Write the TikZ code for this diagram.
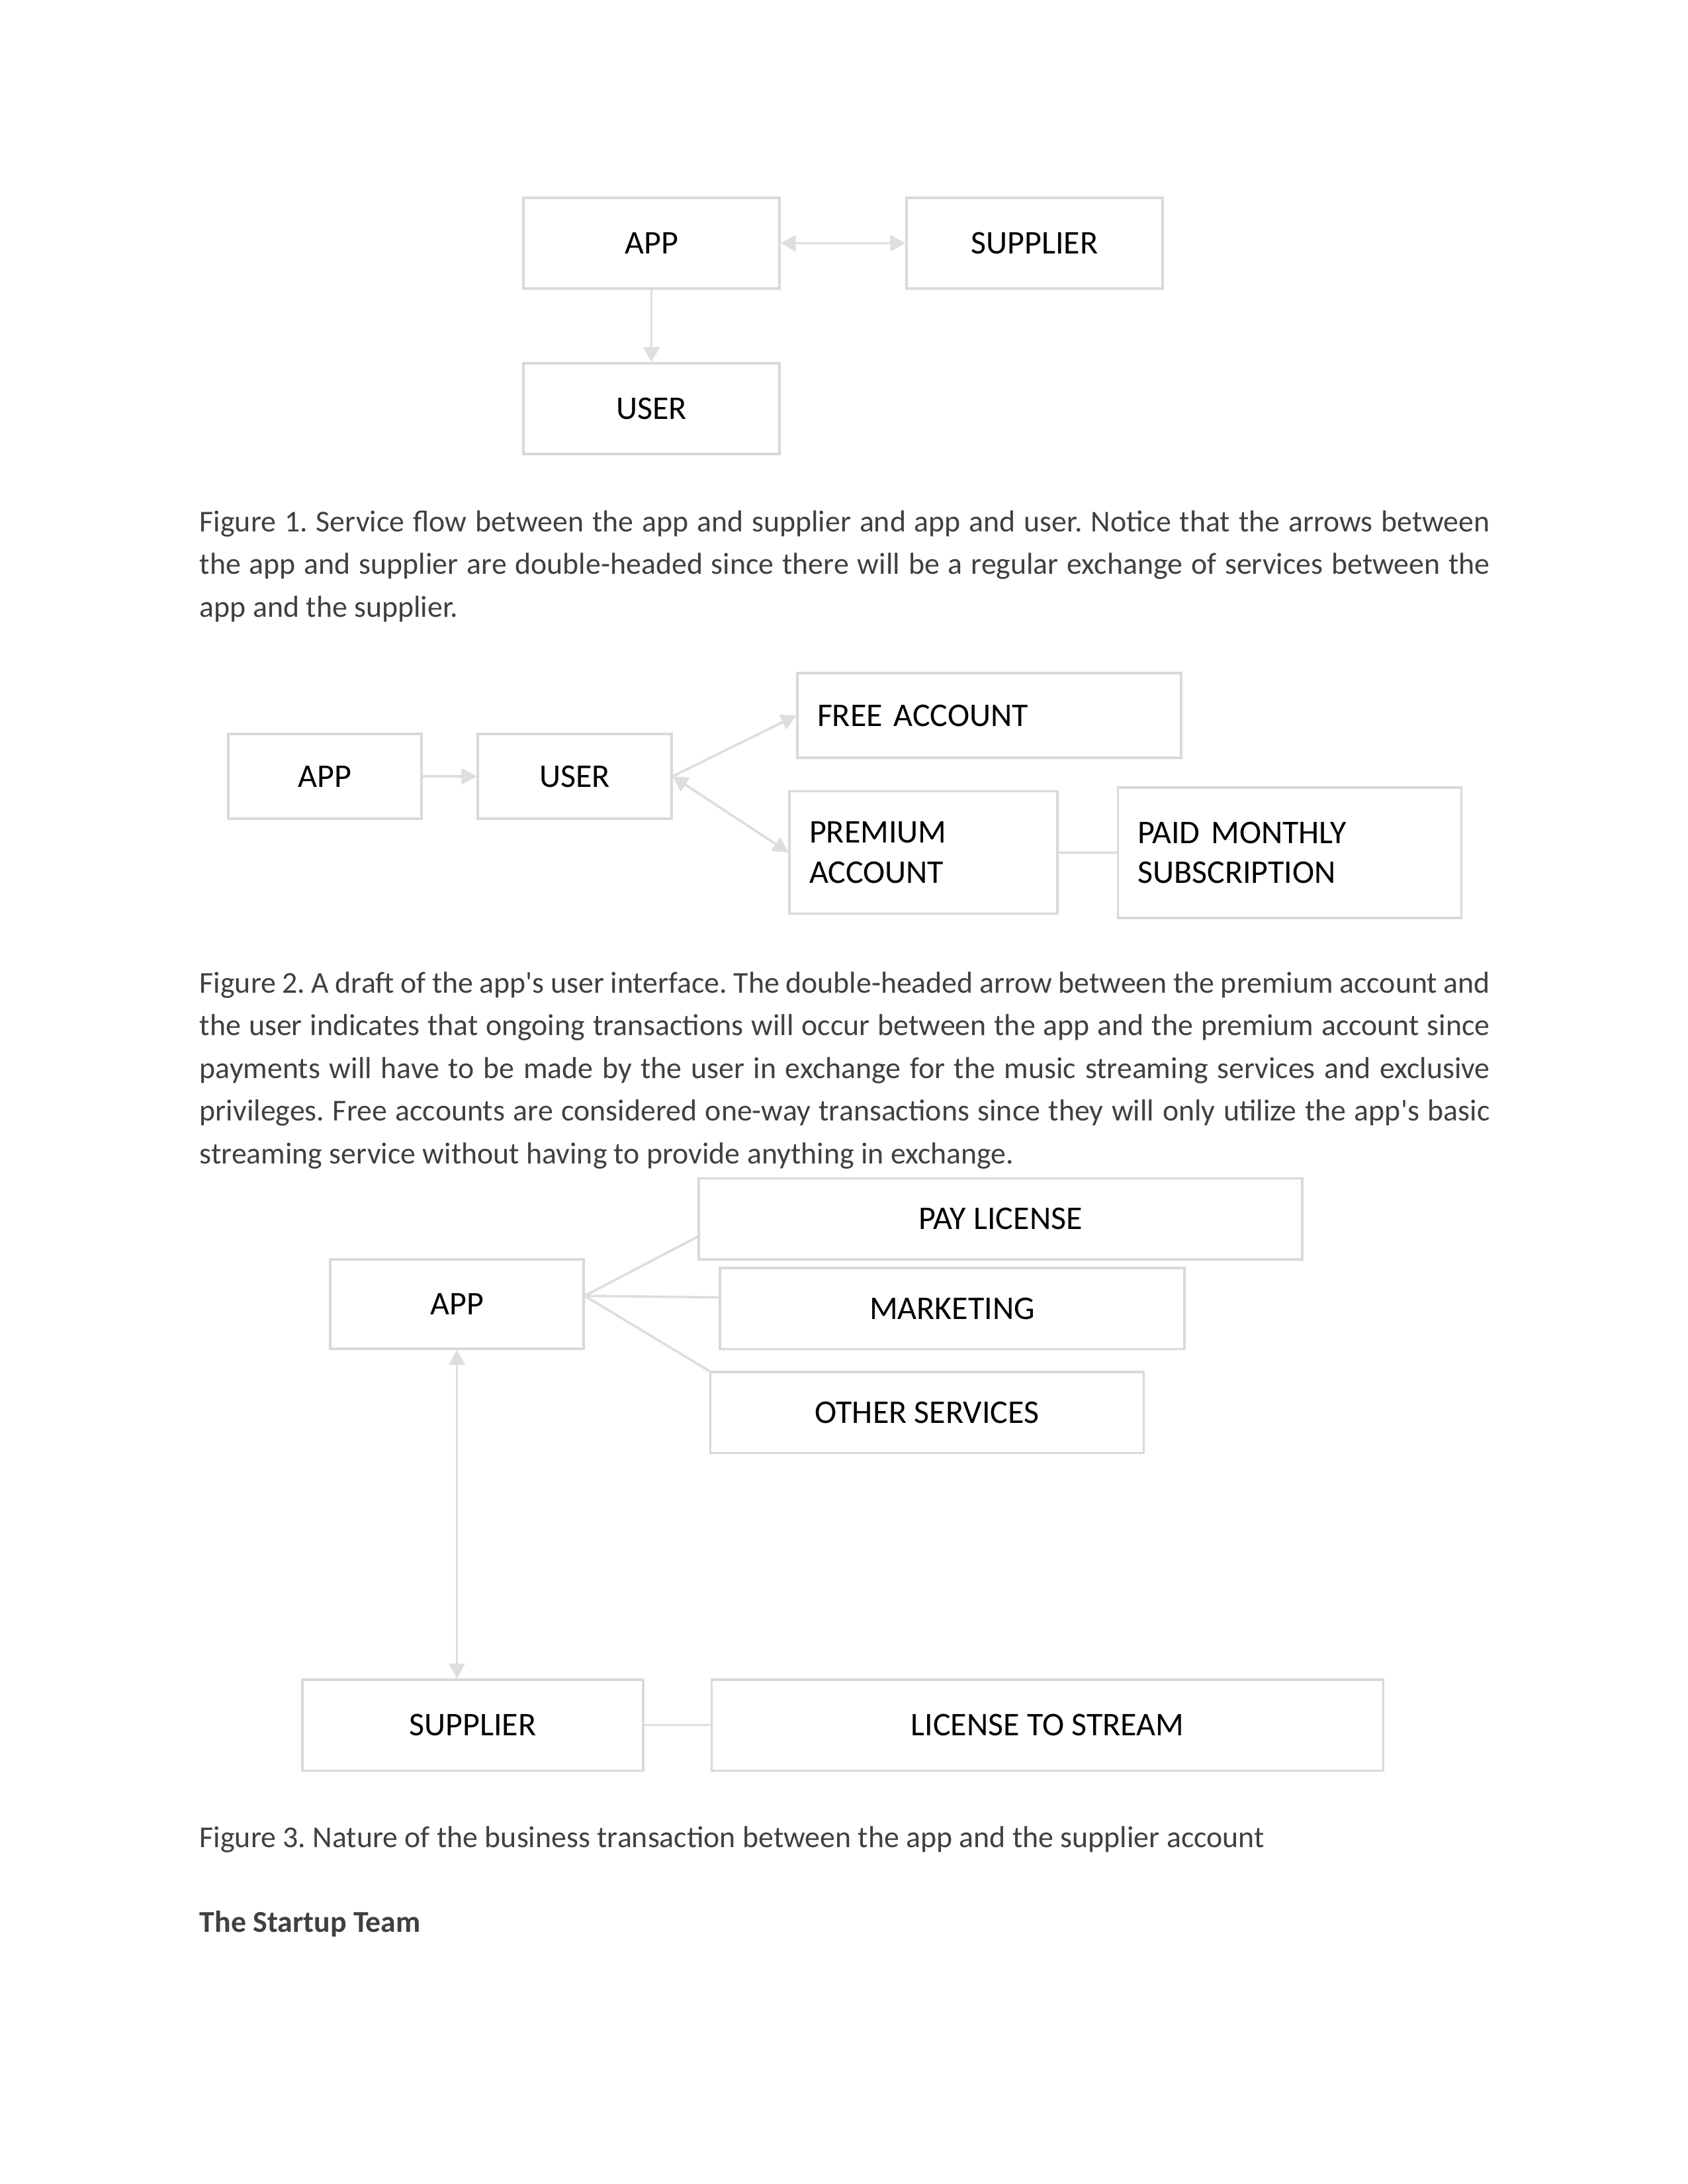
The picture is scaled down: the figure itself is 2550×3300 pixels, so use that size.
\documentclass[tikz,border=0pt]{standalone}
\usepackage{fontspec}
\setmainfont{Carlito}
\usepackage{tikz}
\usetikzlibrary{arrows.meta,positioning}
\definecolor{edgegray}{RGB}{217,217,217}
\definecolor{linkgray}{RGB}{222,222,222}
\definecolor{capgray}{RGB}{64,64,64}
\frenchspacing
\tikzset{
  link/.style={draw=linkgray,line width=0.9pt},
  flow/.style={link,-{Triangle[length=5.5pt,width=5.8pt]}},
  twoway/.style={link,{Triangle[length=5.5pt,width=5.8pt]}-{Triangle[length=5.5pt,width=5.8pt]}},
  block/.style={draw=edgegray,line width=0.75pt,fill=white,inner sep=0pt,
                align=center,text=black,font=\fontsize{12}{14.6}\selectfont},
  leftblock/.style={block,align=left,inner xsep=7.2pt},
  caption/.style={anchor=base west,inner sep=0pt,text=capgray,
                  font=\fontsize{11}{15.5}\selectfont},
}

\begin{document}
\begin{tikzpicture}[x=0.24pt,y=-0.24pt]
  \path[use as bounding box] (0,0) rectangle (2550,3300);

  % figure 1
  \node[block,minimum width=92.9pt,minimum height=32.9pt] (app1) at (984.5,367.5) {APP};
  \node[block,minimum width=92.9pt,minimum height=32.9pt] (sup1) at (1563.5,367.5) {SUPPLIER};
  \node[block,minimum width=92.9pt,minimum height=32.9pt] (usr1) at (984.5,617.5) {USER};
  \draw[twoway] (app1) -- (sup1);
  \draw[flow] (app1) -- (usr1);

  \node[caption,text width=468pt,align=justify] (cap1) at (301,803)
    {Figure 1. Service flow between the app and supplier and app and user. Notice that the arrows between\linebreak
     the app and supplier are double-headed since there will be a regular exchange of services between the\linebreak
     app and the supplier.};

  % figure 2
  \node[block,minimum width=70.1pt,minimum height=30.7pt] (app2) at (491,1173) {APP};
  \node[block,minimum width=70.3pt,minimum height=30.7pt] (usr2) at (868.5,1173) {USER};
  \node[leftblock,text width=124.8pt,minimum height=30.7pt] (free2) at (1495,1081) {FREE ACCOUNT};
  \node[leftblock,text width=82.8pt,minimum height=44.2pt] (prem2) at (1395.5,1288) {PREMIUM\\ACCOUNT};
  \node[leftblock,text width=110.3pt,minimum height=47.3pt] (paid2) at (1949,1288.5) {PAID MONTHLY\\SUBSCRIPTION};
  \draw[flow] (app2) -- (usr2);
  \draw[flow] (usr2.east) -- (free2.west);
  \draw[twoway] (usr2.east) -- (prem2.west);
  \draw[link] (prem2) -- (paid2);

  \node[caption,text width=468pt,align=justify] (cap2) at (301,1500)
    {Figure 2. A draft of the app\textquotesingle s user interface. The double-headed arrow between the premium account and\linebreak
     the user indicates that ongoing transactions will occur between the app and the premium account since\linebreak
     payments will have to be made by the user in exchange for the music streaming services and exclusive\linebreak
     privileges. Free accounts are considered one-way transactions since they will only utilize the app\textquotesingle s basic\linebreak
     streaming service without having to provide anything in exchange.};

  % figure 3
  \node[block,minimum width=218.9pt,minimum height=29.5pt] (pay3) at (1512,1841.5) {PAY LICENSE};
  \node[block,minimum width=168.5pt,minimum height=29.3pt] (mkt3) at (1439,1977) {MARKETING};
  \node[block,minimum width=157.4pt,minimum height=29.3pt] (oth3) at (1401,2134) {OTHER SERVICES};
  \node[block,minimum width=91.9pt,minimum height=32.4pt] (app3) at (690.5,1970.5) {APP};
  \node[block,minimum width=123.6pt,minimum height=32.9pt] (sup3) at (714.5,2606.5) {SUPPLIER};
  \node[block,minimum width=243.8pt,minimum height=32.9pt] (lic3) at (1583,2606.5) {LICENSE TO STREAM};
  \coordinate (hub) at ([yshift=3pt]app3.east);
  \draw[link] (hub) -- ([yshift=-6.5pt]pay3.west);
  \draw[link] (hub) -- ([yshift=4pt]mkt3.west);
  \draw[link] (hub) -- (oth3.north west);
  \draw[twoway] (app3.south) -- (app3.south |- sup3.north);
  \draw[link] (sup3) -- (lic3);

  \node[caption] (cap3) at (301,2791)
    {Figure 3. Nature of the business transaction between the app and the supplier account};
  \node[caption,font=\fontsize{11}{15.5}\selectfont\bfseries] (team) at (301,2919) {The Startup Team};
\end{tikzpicture}
\end{document}
